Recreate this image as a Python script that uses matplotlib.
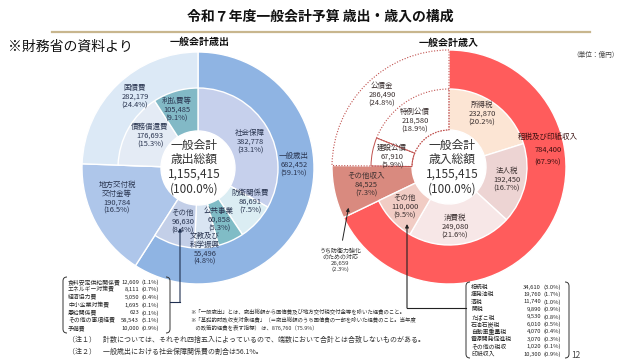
import matplotlib
matplotlib.use('Agg')
import matplotlib.pyplot as plt
from matplotlib.path import Path
from matplotlib.patches import PathPatch

plt.rcParams['font.family'] = ['Noto Sans CJK JP', 'DejaVu Sans']

# ---------------- data ----------------
total = 1155415

exp_outer_labels = ['一般歳出', '地方交付税\n交付金等', '国債費']
exp_outer_values = [682452, 190784, 282179]
exp_outer_pct = [59.1, 16.5, 24.4]

exp_inner_labels = ['社会保障', '防衛関係費', '公共事業', '文教及び\n科学振興', 'その他', None, '債務償還費', '利払費等']
exp_inner_values = [382778, 86691, 60858, 55496, 96630, 190784, 176693, 105485]
exp_inner_pct = [33.1, 7.5, 5.3, 4.8, 8.4, 16.5, 15.3, 9.1]

rev_outer_labels = ['租税及び印紙収入', 'その他収入', '公債金']
rev_outer_values = [784400, 84525, 286490]
rev_outer_pct = [67.9, 7.3, 24.8]

rev_inner_labels = ['所得税', '法人税', '消費税', 'その他', None, '建設公債', '特例公債']
rev_inner_values = [232870, 192450, 249080, 110000, 84525, 67910, 218580]
rev_inner_pct = [20.2, 16.7, 21.6, 9.5, 7.3, 5.9, 18.9]

defense_label = 'うち防衛力強化\nのための対応'
defense_value = 26659
defense_pct = 2.3

exp_other_items = ['食料安定供給関係費', 'エネルギー対策費', '経済協力費', '中小企業対策費',
                   '恩給関係費', 'その他の事項経費', '予備費']
exp_other_values = [12609, 8111, 5050, 1695, 623, 58543, 10000]
exp_other_pct = [1.1, 0.7, 0.4, 0.1, 0.1, 5.1, 0.9]

rev_other_items = ['相続税', '揮発油税', '酒税', '関税', 'たばこ税', '石油石炭税',
                   '自動車重量税', '電源開発促進税', 'その他の税収', '印紙収入']
rev_other_values = [34610, 19760, 11740, 9890, 9530, 6010, 4070, 3070, 1020, 10300]
rev_other_pct = [3.0, 1.7, 1.0, 0.9, 0.8, 0.5, 0.4, 0.3, 0.1, 0.9]

# ---------------- style ----------------
exp_outer_colors = ['#8fb4e3', '#aec6ea', '#dce9f6']
exp_inner_colors = ['#c6d0ec', '#dbedf3', '#80bcc6', '#d9e5f2', '#c3cfe8', 'none', '#e4ebf5', '#82b9c6']
rev_outer_colors = ['#ff5c5c', '#d98a7f', 'none']
rev_inner_colors = ['#fce5d4', '#edd4d3', '#f7e7e7', '#f1ccc4', 'none', 'none', 'none']
dot_red = '#c0504d'

H = 360
def Y(y):
    return H - y

fig = plt.figure(figsize=(6.4, 3.6), dpi=100)
ax = fig.add_axes([0, 0, 1, 1])

# ---------------- left donut (expenditure) ----------------
LC = (198, Y(168))
w_out, _ = ax.pie(exp_outer_values, colors=exp_outer_colors, radius=116, center=LC,
                  startangle=90, counterclock=False,
                  wedgeprops=dict(width=79, edgecolor='white', linewidth=1.0))
w_in, _ = ax.pie(exp_inner_values, colors=exp_inner_colors, radius=80, center=LC,
                 startangle=90, counterclock=False,
                 wedgeprops=dict(width=43, edgecolor='white', linewidth=1.0))
w_in[5].set_edgecolor('none')
w_in[5].set_linewidth(0)

# ---------------- right donut (revenue) ----------------
RC = (449, Y(167))
r_out, _ = ax.pie(rev_outer_values, colors=rev_outer_colors, radius=117, center=RC,
                  startangle=90, counterclock=False,
                  wedgeprops=dict(width=80, edgecolor='white', linewidth=1.0))
r_in, _ = ax.pie(rev_inner_values, colors=rev_inner_colors, radius=78, center=RC,
                 startangle=90, counterclock=False,
                 wedgeprops=dict(width=41, edgecolor='white', linewidth=1.0))
r_in[4].set_edgecolor('none')
r_in[4].set_linewidth(0)
for w in (r_out[2], r_in[6]):
    w.set_edgecolor(dot_red)
    w.set_linestyle((0, (1, 1.5)))
    w.set_linewidth(0.8)
    w.set_zorder(3)
r_in[5].set_edgecolor(dot_red)
r_in[5].set_linewidth(0.7)
r_in[5].set_zorder(3)

# ---------------- labels ----------------
lab_fs = 5.4
ltxt = '#2a3550'
rtxt = '#3a2f2f'

def seg_label(x, y, name, val, pct, color, fs=lab_fs, ls=1.12):
    ax.text(x, Y(y), f"{name}\n{val:,}\n({pct:.1f}%)", ha='center', va='center',
            fontsize=fs, color=color, linespacing=ls, zorder=5)

exp_outer_pos = [(294, 165), (117, 198), (135, 97)]
for (x, y), n, v, p in zip(exp_outer_pos, exp_outer_labels, exp_outer_values, exp_outer_pct):
    seg_label(x, y, n, v, p, ltxt)
exp_inner_pos = [(250, 142), (250, 202), (219, 220), (205, 249), (183, 222), None, (150, 136), (177, 110)]
for pos, n, v, p in zip(exp_inner_pos, exp_inner_labels, exp_inner_values, exp_inner_pct):
    if pos is not None:
        seg_label(pos[0], pos[1], n, v, p, ltxt)

rev_outer_pos = [(548, 150), (366, 185), (382, 95)]
for i, ((x, y), n, v, p) in enumerate(zip(rev_outer_pos, rev_outer_labels, rev_outer_values, rev_outer_pct)):
    if i == 0:
        seg_label(x, y, n, v, p, '#3a1010', ls=1.8)
    else:
        seg_label(x, y, n, v, p, rtxt)
rev_inner_pos = [(482, 114), (507, 180), (455, 227), (405, 207), None, (392, 157), (415, 121)]
for pos, n, v, p in zip(rev_inner_pos, rev_inner_labels, rev_inner_values, rev_inner_pct):
    if pos is not None:
        seg_label(pos[0], pos[1], n, v, p, rtxt)

# center totals
ax.text(194, Y(167), f"一般会計\n歳出総額\n{total:,}\n(100.0%)", ha='center', va='center',
        fontsize=8.5, color='#333333', linespacing=1.15, zorder=5)
ax.text(452, Y(167), f"一般会計\n歳入総額\n{total:,}\n(100.0%)", ha='center', va='center',
        fontsize=8.5, color='#333333', linespacing=1.15, zorder=5)

# defense note
ax.text(340, Y(260), f"{defense_label}\n{defense_value:,}\n({defense_pct:.1f}%)", ha='center',
        va='center', fontsize=4.3, color='#333333', linespacing=1.2, zorder=5)
ax.annotate('', xy=(349, Y(205)), xytext=(342, Y(243)),
            arrowprops=dict(arrowstyle='-|>', color='#222222', lw=0.7, mutation_scale=5), zorder=6)

# ---------------- connectors ----------------
ax.annotate('', xy=(180, Y(228)), xytext=(180, Y(302)),
            arrowprops=dict(arrowstyle='-|>', color='#1f2f4f', lw=0.8, mutation_scale=5, shrinkA=0, shrinkB=0), zorder=6)
ax.plot([170, 180], [Y(302), Y(302)], color='#1f2f4f', lw=0.8, zorder=6)

ax.annotate('', xy=(407, Y(224)), xytext=(407, Y(308)),
            arrowprops=dict(arrowstyle='-|>', color='#222222', lw=0.8, mutation_scale=5, shrinkA=0, shrinkB=0), zorder=6)
ax.plot([407, 466], [Y(308), Y(308)], color='#222222', lw=0.8, zorder=6)

def bracket(x0, x1, y0, y1, color='#333333'):
    c = 4
    verts_l = [(x0 + c, Y(y0)), (x0, Y(y0)), (x0, Y(y0 + c)), (x0, Y(y1 - c)), (x0, Y(y1)), (x0 + c, Y(y1))]
    codes = [Path.MOVETO, Path.CURVE3, Path.CURVE3, Path.LINETO, Path.CURVE3, Path.CURVE3]
    ax.add_patch(PathPatch(Path(verts_l, codes), fill=False, edgecolor=color, lw=0.7))
    verts_r = [(x1 - c, Y(y0)), (x1, Y(y0)), (x1, Y(y0 + c)), (x1, Y(y1 - c)), (x1, Y(y1)), (x1 - c, Y(y1))]
    ax.add_patch(PathPatch(Path(verts_r, codes), fill=False, edgecolor=color, lw=0.7))

# ---------------- lists ----------------
list_fs = 4.2
bracket(63, 170, 277, 333)
for i, (n, v, p) in enumerate(zip(exp_other_items, exp_other_values, exp_other_pct)):
    yy = Y(282 + i * 7.7)
    ax.text(68, yy, n, ha='left', va='center', fontsize=list_fs, color='#222222')
    ax.text(139, yy, f"{v:,}", ha='right', va='center', fontsize=list_fs, color='#222222')
    ax.text(141, yy, f"({p:.1f}%)", ha='left', va='center', fontsize=list_fs, color='#222222')

bracket(466, 569, 282, 358)
for i, (n, v, p) in enumerate(zip(rev_other_items, rev_other_values, rev_other_pct)):
    yy = Y(287 + i * 7.45)
    ax.text(471, yy, n, ha='left', va='center', fontsize=list_fs, color='#222222')
    ax.text(541, yy, f"{v:,}", ha='right', va='center', fontsize=list_fs, color='#222222')
    ax.text(543, yy, f"({p:.1f}%)", ha='left', va='center', fontsize=list_fs, color='#222222')

# ---------------- titles & notes ----------------
ax.text(320, Y(17), '令和７年度一般会計予算 歳出・歳入の構成', ha='center', va='center',
        fontsize=10, fontweight='bold', color='#111111')
ax.plot([52, 590], [Y(32), Y(32)], color='#c8b68e', lw=1.6)
ax.text(8, Y(47), '※財務省の資料より', ha='left', va='center', fontsize=10, color='#111111')
ax.text(200, Y(42), '一般会計歳出', ha='center', va='center', fontsize=7.2, fontweight='bold', color='#111111')
ax.text(449, Y(43), '一般会計歳入', ha='center', va='center', fontsize=7.2, fontweight='bold', color='#111111')
ax.text(596, Y(55), '（単位：億円）', ha='center', va='center', fontsize=4.8, color='#444444')

note_fs = 3.9
ax.text(190, Y(312), '※「一般歳出」とは、歳出総額から国債費及び地方交付税交付金等を除いた経費のこと。',
        ha='left', va='center', fontsize=note_fs, color='#333333')
ax.text(190, Y(320), '※「基礎的財政収支対象経費」（＝歳出総額のうち国債費の一部を除いた経費のこと。当年度',
        ha='left', va='center', fontsize=note_fs, color='#333333')
ax.text(190, Y(328), '　の政策的経費を表す指標） は、876,760（75.9%）',
        ha='left', va='center', fontsize=note_fs, color='#333333')
ax.text(68, Y(340), '（注１）　計数については、それぞれ四捨五入によっているので、端数において合計とは合致しないものがある。',
        ha='left', va='center', fontsize=5.0, color='#333333')
ax.text(68, Y(352), '（注２）　一般歳出における社会保障関係費の割合は56.1%。',
        ha='left', va='center', fontsize=5.0, color='#333333')
ax.text(576, Y(356), '12', ha='center', va='center', fontsize=6, color='#444444')

ax.set_xlim(0, 640)
ax.set_ylim(0, 360)
ax.set_aspect('equal')
ax.axis('off')
fig.savefig('out.png', dpi=100)
